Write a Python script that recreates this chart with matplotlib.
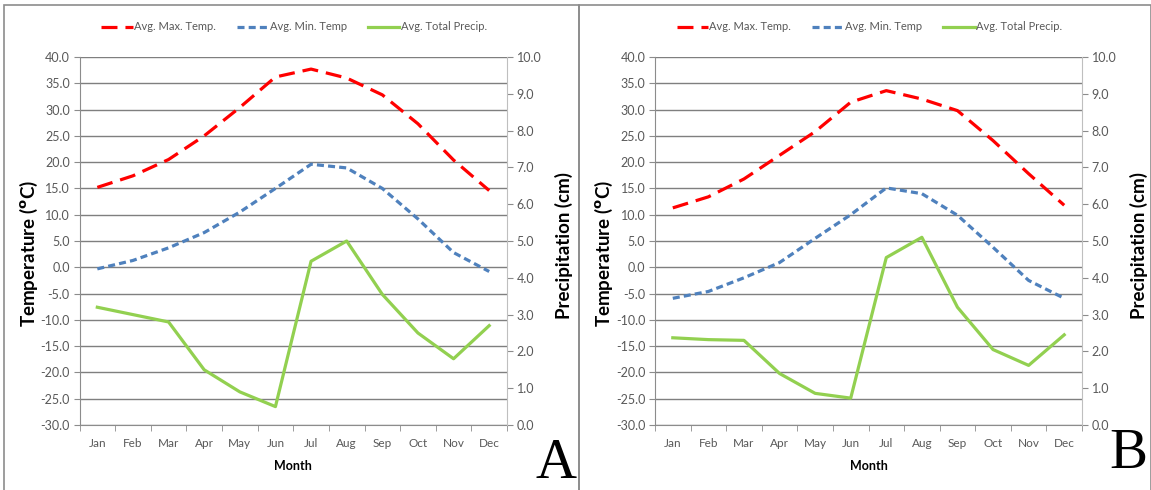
import matplotlib.pyplot as plt
from matplotlib.patches import Rectangle

plt.rcParams['font.family'] = ['Lato', 'DejaVu Sans']

months = ['Jan', 'Feb', 'Mar', 'Apr', 'May', 'Jun', 'Jul', 'Aug', 'Sep', 'Oct', 'Nov', 'Dec']

# panel A
max_a = [15.2, 17.4, 20.5, 25.0, 30.4, 36.2, 37.7, 36.0, 32.8, 27.3, 20.4, 14.6]
min_a = [-0.3, 1.3, 3.7, 6.6, 10.5, 15.0, 19.6, 18.9, 15.0, 9.2, 2.8, -0.8]
prec_a = [3.2, 3.0, 2.8, 1.5, 0.9, 0.5, 4.45, 5.0, 3.55, 2.5, 1.8, 2.7]

# panel B
max_b = [11.3, 13.4, 16.8, 21.3, 25.8, 31.4, 33.6, 32.0, 29.8, 24.1, 17.8, 11.8]
min_b = [-5.9, -4.6, -2.0, 0.9, 5.5, 10.0, 15.1, 14.0, 9.9, 3.8, -2.5, -5.9]
prec_b = [2.37, 2.32, 2.3, 1.4, 0.86, 0.73, 4.55, 5.1, 3.2, 2.05, 1.62, 2.45]

W, H = 1151, 490
fig = plt.figure(figsize=(W / 100, H / 100), dpi=100)

# panel frames
for x0, x1 in [(4, 579), (579, 1151)]:
    fig.patches.append(Rectangle((x0 / W, -0.01), (x1 - x0) / W, (H - 5) / H + 0.01,
                                 transform=fig.transFigure, fill=False,
                                 edgecolor='#8c8c8c', linewidth=1.2))

grey = '#595959'


def panel(left, right, tmax, tmin, prec, letter, lx, ly):
    top, bottom = 57, 425
    ax = fig.add_axes([left / W, (H - bottom) / H, (right - left) / W, (bottom - top) / H])
    x = range(len(months))
    l1, = ax.plot(x, tmax, color='#ff0000', lw=2.3, dashes=(5, 2.5), label='Avg. Max. Temp.')
    l2, = ax.plot(x, tmin, color='#4f81bd', lw=2.3, dashes=(2.2, 1.3), label='Avg. Min. Temp')
    ax.set_xlim(-0.5, 11.5)
    ax.set_ylim(-30, 40)
    ax.set_yticks(range(-30, 41, 5))
    ax.set_yticklabels(['%.1f' % v for v in range(-30, 41, 5)])
    ax.yaxis.grid(True, color='#7f7f7f', lw=1)
    ax.set_axisbelow(True)
    ax.set_xticks(x)
    ax.set_xticklabels(months)
    ax.set_xticks([i + 0.5 for i in range(-1, 12)], minor=True)
    ax.tick_params(axis='x', which='major', length=0, pad=9, labelsize=8.5, labelcolor=grey)
    ax.tick_params(axis='x', which='minor', length=4, color='#8c8c8c')
    ax.tick_params(axis='y', length=4, color='#8c8c8c', labelsize=9, labelcolor=grey, pad=3)
    for s in ['top', 'right']:
        ax.spines[s].set_visible(False)
    ax.spines['left'].set_color('#8c8c8c')
    ax.spines['bottom'].set_color('#8c8c8c')
    ax.set_xlabel('Month', fontsize=9, fontweight='bold', labelpad=8)
    ax.set_ylabel(r'Temperature ($\mathbf{^{o}}$C)', fontsize=13.5, fontweight='bold')
    ax.yaxis.set_label_coords(-0.093, 0.465)

    ax2 = ax.twinx()
    l3, = ax2.plot(x, prec, color='#92d050', lw=2.3, label='Avg. Total Precip.')
    ax2.set_ylim(0, 10)
    ax2.set_yticks(range(0, 11))
    ax2.set_yticklabels(['%.1f' % v for v in range(0, 11)])
    ax2.tick_params(axis='y', length=4, color='#8c8c8c', labelsize=9, labelcolor=grey, pad=3)
    for s in ['top', 'left', 'bottom']:
        ax2.spines[s].set_visible(False)
    ax2.spines['right'].set_color('#bfbfbf')
    ax2.set_ylabel('Precipitation (cm)', fontsize=13.5, fontweight='bold')
    ax2.yaxis.set_label_coords(1.112, 0.489)

    fig.legend(handles=[l1, l2, l3], loc='center',
               bbox_to_anchor=((left + right) / 2 / W + 1 / W, (H - 27) / H),
               ncol=3, frameon=False, fontsize=8, handlelength=2.8,
               handletextpad=0.15, columnspacing=1.9, labelcolor=grey)

    fig.text(lx / W, (H - ly) / H, letter, family=['Liberation Serif', 'DejaVu Serif'],
             fontsize=41, ha='center', va='center')


panel(79.5, 507, max_a, min_a, prec_a, 'A', 556, 464)
panel(655, 1082, max_b, min_b, prec_b, 'B', 1128, 454)

fig.savefig('out.png', dpi=100)
